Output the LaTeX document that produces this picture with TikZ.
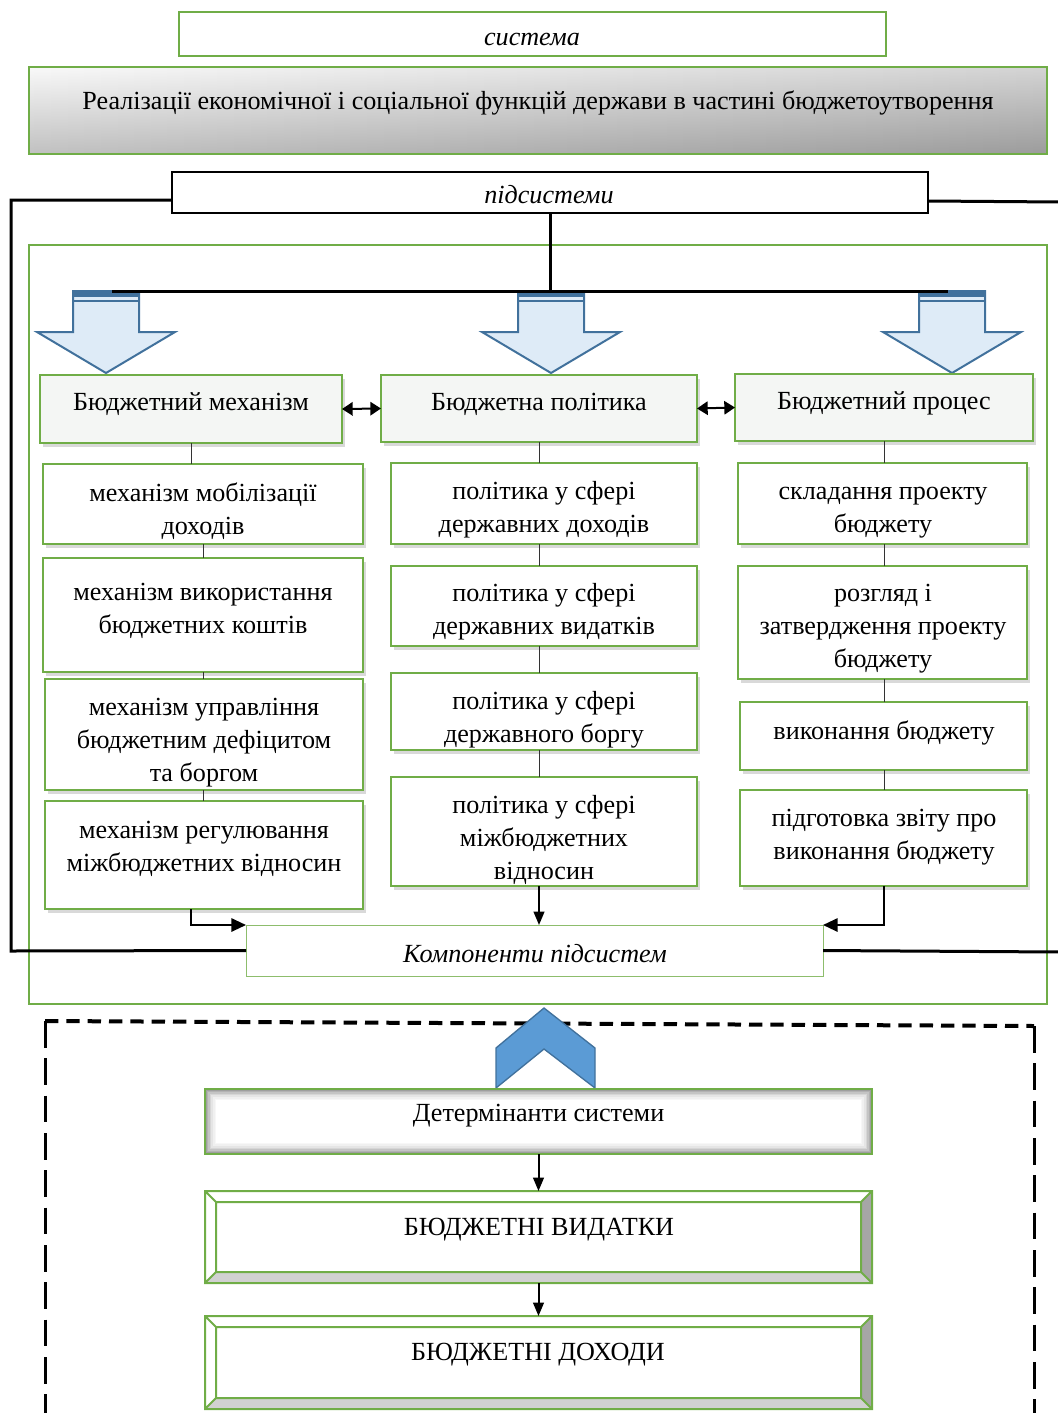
\documentclass[tikz,border=0pt]{standalone}
\usepackage{fontspec}
\setmainfont{Liberation Serif}
\usetikzlibrary{arrows.meta,shadows,calc}

\definecolor{boxgreen}{HTML}{70AD47}
\definecolor{arrowfill}{HTML}{DEEBF7}
\definecolor{arrowedge}{HTML}{41719C}
\definecolor{chevfill}{HTML}{5B9BD5}
\definecolor{headfill}{HTML}{F4F6F4}

\begin{document}
\begin{tikzpicture}[x=0.75pt,y=-0.75pt,
  every node/.style={font=\fontsize{19.6}{24.75}\selectfont},
  boxsize/.style 2 args={minimum width=#1*0.75pt,minimum height=#2*0.75pt},
  greenbox/.style={draw=boxgreen,line width=1.5pt,fill=white,inner sep=0pt,outer sep=0pt},
  headbox/.style={greenbox,fill=headfill,drop shadow={shadow xshift=2.5pt,shadow yshift=-3pt,opacity=0.3}},
  cellbox/.style={greenbox,drop shadow={shadow xshift=2.5pt,shadow yshift=-3pt,opacity=0.3}},
  txt/.style={align=center,inner sep=0pt,yshift=-1.5pt},
  itxt/.style={txt,font=\fontsize{19.6}{24.75}\selectfont\itshape},
  link/.style={draw=black!80,line width=0.75pt},
  thickline/.style={line width=2.25pt},
  tolink/.style={line width=1.5pt,-{Triangle[length=11pt,width=10pt]}},
  downlink/.style={line width=1.5pt,-{Triangle[length=10pt,width=8pt]}},
  dbl/.style={line width=1.5pt,{Triangle[length=8pt,width=10pt]}-{Triangle[length=8pt,width=10pt]}},
  bluearrow/.style={fill=arrowfill,draw=arrowedge,line width=1.5pt,line join=miter},
  chevron/.style={fill=chevfill,draw=arrowedge,line width=1pt},
  bevel/.style={draw=boxgreen,line width=1.5pt}]
  \useasboundingbox (0,0) rectangle (1057,1413);

  % top of the system
  \node[greenbox,boxsize={707}{44}] (sys) at (532.5,34) {};
  \node[itxt] (sys-t) at (532,37) {система};
  \node[draw=boxgreen,line width=1.5pt,inner sep=0pt,outer sep=0pt,left color=black!4,right color=black!28,
    path picture={\shade[top color=white,bottom color=black!55,opacity=0.4]
      (path picture bounding box.south west) rectangle (path picture bounding box.north east);},
    boxsize={1018}{87}] (main) at (538,110.5) {};
  \node[txt] (main-t) at (538,101) {Реалізації економічної і соціальної функцій держави в частині бюджетоутворення};
  \node[draw,line width=1.5pt,fill=white,inner sep=0pt,outer sep=0pt,boxsize={756}{41}] (sub) at (550,192.5) {};
  \node[itxt] (sub-t) at (549,193) {підсистеми};

  % frame of the subsystems
  \draw[boxgreen,line width=1.5pt] (29,245) rectangle (1047,1004);

  % block arrows
  \foreach \cx in {106,551,952} {
    \draw[bluearrow] (\cx-33,291) -- (\cx+33,291) -- (\cx+33,332) -- (\cx+69,332)
      -- (\cx,373) -- (\cx-69,332) -- (\cx-33,332) -- cycle;
    \fill[arrowedge] (\cx-33,290) rectangle (\cx+33,297);
    \draw[arrowedge,line width=1pt] (\cx-33,301) -- (\cx+33,301);
  }
  \coordinate (barL) at (112,291);
  \coordinate (barR) at (948,291);
  \draw[thickline] (sub.south) -- (sub.south |- barL);
  \draw[thickline] (barL) -- (barR);

  % headers
  \node[headbox,boxsize={302}{68}] (h1) at (191,409) {};
  \node[headbox,boxsize={316}{67}] (h2) at (539,408.5) {};
  \node[headbox,boxsize={298}{67}] (h3) at (884,407.5) {};
  \node[txt] (h1-t) at (191,402) {Бюджетний механізм};
  \node[txt] (h2-t) at (539,402) {Бюджетна політика};
  \node[txt] (h3-t) at (884,401) {Бюджетний процес};
  \draw[dbl] (h1.east) -- (h2.west);
  \draw[dbl] (h2.east) -- (h3.west);

  % column 1
  \node[cellbox,boxsize={320}{80}] (m1) at (203,504) {};
  \node[cellbox,boxsize={320}{114}] (m2) at (203,615) {};
  \node[cellbox,boxsize={318}{111}] (m3) at (204,734.5) {};
  \node[cellbox,boxsize={318}{108}] (m4) at (204,855) {};
  \node[txt] (m1-t) at (203,509) {механізм мобілізації\\доходів};
  \node[txt] (m2-t) at (203,609) {механізм використання\\бюджетних коштів};
  \node[txt] (m3-t) at (204,741) {механізм управління\\бюджетним дефіцитом\\та боргом};
  \node[txt] (m4-t) at (204,847) {механізм регулювання\\міжбюджетних відносин};

  % column 2
  \node[cellbox,boxsize={306}{81}] (p1) at (544,503.5) {};
  \node[cellbox,boxsize={306}{80}] (p2) at (544,606) {};
  \node[cellbox,boxsize={306}{77}] (p3) at (544,711.5) {};
  \node[cellbox,boxsize={306}{109}] (p4) at (544,831.5) {};
  \node[txt] (p1-t) at (544,508) {політика у сфері\\державних доходів};
  \node[txt] (p2-t) at (544,610) {політика у сфері\\державних видатків};
  \node[txt] (p3-t) at (544,718) {політика у сфері\\державного боргу};
  \node[txt] (p4-t) at (544,838) {політика у сфері\\міжбюджетних\\відносин};

  % column 3
  \node[cellbox,boxsize={289}{81}] (r1) at (882.5,503.5) {};
  \node[cellbox,boxsize={289}{113}] (r2) at (882.5,622.5) {};
  \node[cellbox,boxsize={287}{68}] (r3) at (883.5,736) {};
  \node[cellbox,boxsize={287}{96}] (r4) at (883.5,838) {};
  \node[txt] (r1-t) at (883,511) {складання проекту\\бюджету};
  \node[txt] (r2-t) at (883,627) {розгляд і\\затвердження проекту\\бюджету};
  \node[txt] (r3-t) at (884,731) {виконання бюджету};
  \node[txt] (r4-t) at (884,835) {підготовка звіту про\\виконання бюджету};

  % links inside the columns
  \draw[link] (h1.south) -- (h1.south |- m1.north);
  \foreach \a/\b in {m1/m2,m2/m3,m3/m4}
    \draw[link] (\a.south -| m1.south) -- (\b.north -| m1.south);
  \foreach \a/\b in {h2/p1,p1/p2,p2/p3,p3/p4}
    \draw[link] (\a.south -| h2.south) -- (\b.north -| h2.south);
  \foreach \a/\b in {h3/r1,r1/r2,r2/r3,r3/r4}
    \draw[link] (\a.south -| h3.south) -- (\b.north -| h3.south);

  % components of the subsystems
  \node[draw=boxgreen!80,line width=0.75pt,fill=white,inner sep=0pt,outer sep=0pt,boxsize={577}{51}] (comp) at (534.5,950.5) {};
  \node[itxt] (comp-t) at (535,952) {Компоненти підсистем};
  \draw[tolink] (m4.south -| h1.south) |- (comp.north west);
  \draw[downlink] (p4.south -| h2.south) -- (comp.north -| h2.south);
  \draw[tolink] (r4.south -| h3.south) |- (comp.north east);

  % black outer lines
  \coordinate (rimT) at (1060,202);
  \coordinate (rimB) at (1060,952);
  \draw[thickline] (sub.west |- 0,200) -| (11,951) -- (comp.west);
  \draw[thickline] (sub.east |- 0,201) -- (rimT);
  \draw[thickline] (comp.east) -- (rimB);

  % dashed frame of the determinants
  \draw[line width=3pt,dash pattern=on 10pt off 6pt] (45,1021) -- (1034,1026);
  \draw[line width=2.25pt,dash pattern=on 20pt off 8pt] (45,1021) -- (45,1420) (1034,1026) -- (1034,1420);
  \draw[chevron] (544,1008) -- (595,1048) -- (595,1088) -- (544,1049) -- (496,1088) -- (496,1048) -- cycle;

  % determinants
  \node[greenbox,boxsize={667}{65},path picture={
      \foreach \i/\c in {0/38,1/30,2/23,3/16,4/10,5/6,6/3}
        \draw[black!\c,line width=1.2pt]
          ([shift={(\i*1.6+0.8,-\i*1.6-0.8)}]path picture bounding box.south west) rectangle
          ([shift={(-\i*1.6-0.8,\i*1.6+0.8)}]path picture bounding box.north east);
    }] (det) at (538.5,1121.5) {};
  \node[txt] (det-t) at (538.5,1114) {Детермінанти системи};

  \node[greenbox,boxsize={667}{92}] (vid) at (538.5,1237) {};
  \node[greenbox,boxsize={667}{93}] (dox) at (538.5,1362.5) {};
  \foreach \b in {vid,dox} {
    \fill[black!18] (\b.south west) -- (\b.south east) -- ($(\b.south east)+(-11,-11)$)
      -- ($(\b.south west)+(11,-11)$) -- cycle;
    \fill[black!35] (\b.south east) -- (\b.north east) -- ($(\b.north east)+(-11,11)$)
      -- ($(\b.south east)+(-11,-11)$) -- cycle;
    \draw[bevel] (\b.south west) rectangle (\b.north east)
      ($(\b.south west)+(11,-11)$) rectangle ($(\b.north east)+(-11,11)$)
      (\b.south west) -- ++(11,-11) (\b.south east) -- ++(-11,-11)
      (\b.north west) -- ++(11,11) (\b.north east) -- ++(-11,11);
  }
  \node[txt] (vid-t) at (539,1228) {БЮДЖЕТНІ ВИДАТКИ};
  \node[txt] (dox-t) at (538,1353) {БЮДЖЕТНІ ДОХОДИ};
  \draw[downlink] (det.south) -- (vid.north);
  \draw[downlink] (vid.south) -- (dox.north);
\end{tikzpicture}
\end{document}
